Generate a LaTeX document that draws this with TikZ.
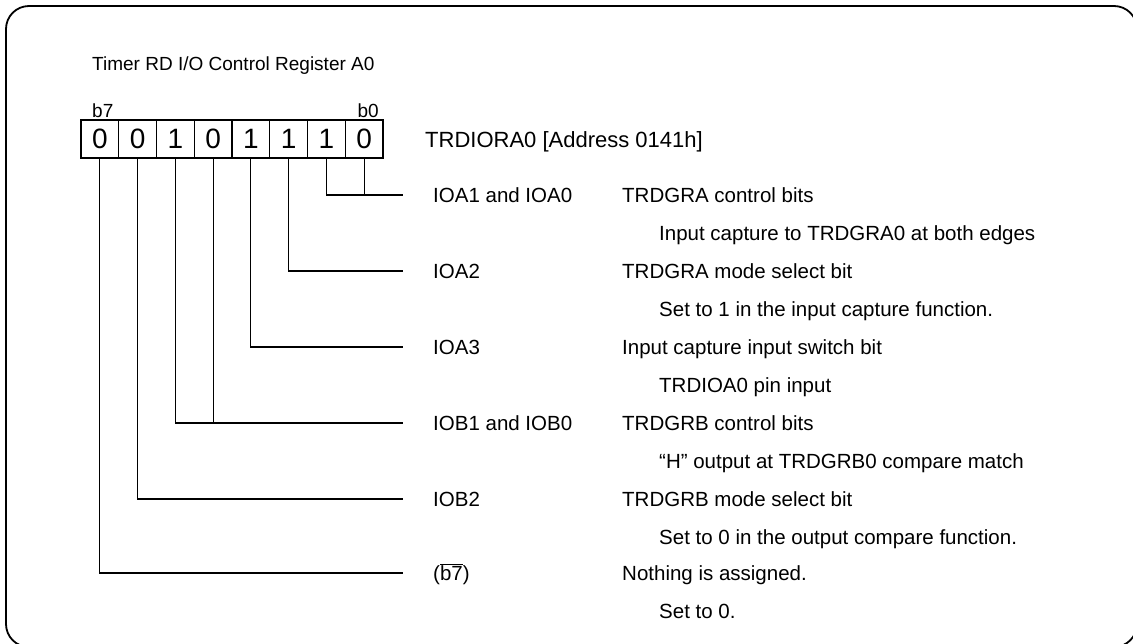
\documentclass[tikz,border=0pt]{standalone}
\usepackage{fontspec}
\setmainfont{Liberation Sans}
\begin{document}
\begin{tikzpicture}[x=1pt,y=-1pt,
  cell/.style={draw,line width=1.2pt,minimum width=37.75pt,minimum height=38pt,inner sep=0pt,font=\fontsize{28}{32}\selectfont},
  lbl/.style={anchor=base west,inner sep=0pt,font=\fontsize{20.5}{24}\selectfont},
  small/.style={anchor=base west,inner sep=0pt,font=\fontsize{19}{22}\selectfont},
  wire/.style={line width=1.2pt}]
\useasboundingbox (0,0) rectangle (1133,643);
\draw[line width=1.8pt,rounded corners=23pt] (6,6) rectangle (1137,647);
\node[small] (title) at (92,70) {Timer RD I/O Control Register A0};
\node[small] (b7lbl) at (92,117) {b7};
\node[small,anchor=base east] (b0lbl) at (379,117) {b0};
% cells (bit7 leftmost)
\foreach \b/\v [count=\k from 0] in {7/0,6/0,5/1,4/0,3/1,2/1,1/1,0/0}{
  \node[cell] (bit\b) at ({81+37.75*(\k+0.5)},139) {\v};
}
\node[lbl,font=\fontsize{22}{26}\selectfont] (addr) at (425,147) {TRDIORA0 [Address 0141h]};
% row end coordinates
\coordinate (e0) at (403,195);
\coordinate (e2) at (403,271);
\coordinate (e3) at (403,347);
\coordinate (e4) at (403,423);
\coordinate (e6) at (403,499);
\coordinate (e7) at (403,573);
% connectors
\draw[wire] (bit1.south) |- (e0);
\draw[wire] (bit0.south) -- (bit0.south |- e0);
\draw[wire] (bit2.south) |- (e2);
\draw[wire] (bit3.south) |- (e3);
\draw[wire] (bit5.south) |- (e4);
\draw[wire] (bit4.south) -- (bit4.south |- e4);
\draw[wire] (bit6.south) |- (e6);
\draw[wire] (bit7.south) |- (e7);
% labels
\node[lbl] (n0) at (433,202.5) {IOA1 and IOA0};
\node[lbl] (d0) at (622,202.5) {TRDGRA control bits};
\node[lbl] (s0) at (659,240.5) {Input capture to TRDGRA0 at both edges};
\node[lbl] (n2) at (433,278.5) {IOA2};
\node[lbl] (d2) at (622,278.5) {TRDGRA mode select bit};
\node[lbl] (s2) at (659,316.5) {Set to 1 in the input capture function.};
\node[lbl] (n3) at (433,354.5) {IOA3};
\node[lbl] (d3) at (622,354.5) {Input capture input switch bit};
\node[lbl] (s3) at (659,392.5) {TRDIOA0 pin input};
\node[lbl] (n4) at (433,430.5) {IOB1 and IOB0};
\node[lbl] (d4) at (622,430.5) {TRDGRB control bits};
\node[lbl] (s4) at (659,468.5) {“H” output at TRDGRB0 compare match};
\node[lbl] (n6) at (433,506.5) {IOB2};
\node[lbl] (d6) at (622,506.5) {TRDGRB mode select bit};
\node[lbl] (s6) at (659,544.5) {Set to 0 in the output compare function.};
\node[lbl] (n7) at (433,580.5) {($\overline{\hbox{b7}}$)};
\node[lbl] (d7) at (622,580.5) {Nothing is assigned.};
\node[lbl] (s7) at (659,618) {Set to 0.};
\end{tikzpicture}
\end{document}
